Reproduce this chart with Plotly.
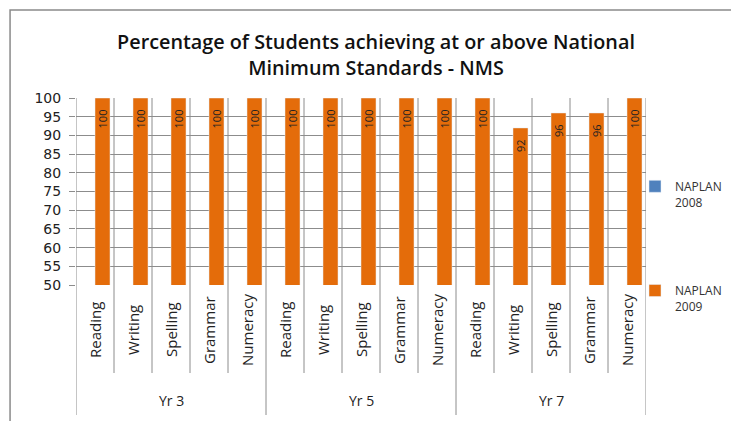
import plotly.graph_objects as go

# ---- data ----
years = ["Yr 3", "Yr 5", "Yr 7"]
subjects = ["Reading", "Writing", "Spelling", "Grammar", "Numeracy"]
naplan_2008 = [None] * 15
naplan_2009 = [100, 100, 100, 100, 100,
               100, 100, 100, 100, 100,
               100, 92, 96, 96, 100]
y_ticks = list(range(50, 101, 5))

# ---- layout constants (pixels; page has an 8px body margin) ----
OFF = 8
W, H = 739 - OFF, 421 - OFF
L, T = 76 - OFF, 98 - OFF
PR, PB = 646.5 - OFF, 285 - OFF
R, B = W - PR, H - PB
PW = PR - L
PH = PB - T


def xp(px):
    return (px - OFF - L) / PW


def yp(py):
    return (PB - (py - OFF)) / PH


n_sub = len(subjects)
xs = list(range(len(years) * n_sub))
sub_labels = [subjects[i % n_sub] for i in xs]

fig = go.Figure()
fig.add_trace(go.Bar(
    x=xs, y=naplan_2008, name="NAPLAN<br>2008",
    marker_color="#4F81BD", legendgroup="a",
))
fig.add_trace(go.Bar(
    x=xs, y=naplan_2009, name="NAPLAN<br>2009",
    marker_color="#E46C0A", legendgroup="b",
    texttemplate="%{y}\u00a0\u00a0\u00a0", textposition="inside", insidetextanchor="end",
    textangle=-90, constraintext="none",
    textfont=dict(family="Open Sans", size=11, color="#222222"),
))

grid = "#8C8C8C"
shapes = []
# outer frame
shapes.append(dict(type="rect", xref="paper", yref="paper",
                   x0=xp(10), x1=xp(750), y0=yp(440), y1=yp(10),
                   line=dict(color="#8A8A8A", width=1.5), layer="below"))
# vertical category / group dividers
for k in range(len(xs) + 1):
    xb = k - 0.5
    low = 415 if k % n_sub == 0 else 373
    shapes.append(dict(type="line", xref="x", yref="paper",
                       x0=xb, x1=xb, y0=yp(low), y1=1,
                       line=dict(color=grid, width=1), layer="below"))

annotations = []
for i in xs:
    annotations.append(dict(x=i, y=yp(330), xref="x", yref="paper",
                            text=sub_labels[i], showarrow=False, textangle=-90,
                            font=dict(family="Open Sans", size=15, color="#222222"),
                            xanchor="center", yanchor="middle"))
for g, yr in enumerate(years):
    annotations.append(dict(x=g * n_sub + (n_sub - 1) / 2, y=yp(400), xref="x", yref="paper",
                            text=yr, showarrow=False,
                            font=dict(family="Open Sans", size=14, color="#222222"),
                            xanchor="center", yanchor="middle"))

fig.update_layout(
    width=W, height=H,
    margin=dict(l=L, r=R, t=T, b=B, autoexpand=False),
    paper_bgcolor="white", plot_bgcolor="white",
    barmode="group", bargap=0.21, bargroupgap=0,
    title=dict(text="Percentage of Students achieving at or above National<br>Minimum Standards - NMS",
               x=(376 - OFF) / W, xanchor="center", xref="container",
               y=1 - 41 / H, yanchor="top", yref="container",
               font=dict(family="Open Sans", size=19.8, color="#111111", weight=600)),
    xaxis=dict(range=[-0.5, len(xs) - 0.5], showticklabels=False, showgrid=False,
               zeroline=False, showline=False, ticks=""),
    yaxis=dict(range=[50, 100], tickvals=y_ticks, showgrid=True, gridcolor=grid,
               gridwidth=1, zeroline=False, showline=False,
               ticks="outside", ticklen=6, tickcolor=grid, ticklabelstandoff=5,
               tickfont=dict(family="DejaVu Sans", size=14, color="#222222")),
    legend=dict(xref="container", yref="container", x=627 / W, y=1 - 164 / H,
                xanchor="left", yanchor="top", tracegroupgap=70, valign="top",
                font=dict(family="Open Sans", size=12, color="#333333"),
                bgcolor="rgba(0,0,0,0)"),
    shapes=shapes, annotations=annotations,
    showlegend=True,
)

fig.write_html("out.html")
